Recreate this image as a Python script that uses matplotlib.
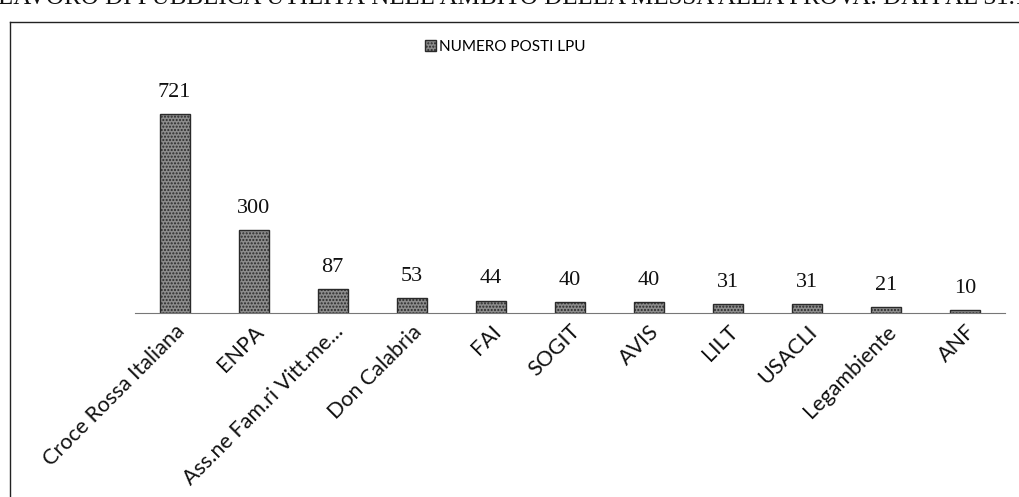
import matplotlib
matplotlib.use('Agg')
import matplotlib.pyplot as plt
from matplotlib.patches import Patch
from matplotlib.lines import Line2D

# Data
enti = ['Croce Rossa Italiana', 'ENPA', 'Ass.ne Fam.ri Vitt.me...', 'Don Calabria',
        'FAI', 'SOGIT', 'AVIS', 'LILT', 'USACLI', 'Legambiente', 'ANF']
posti = [721, 300, 87, 53, 44, 40, 40, 31, 31, 21, 10]
serie_label = 'NUMERO POSTI LPU'
intestazione = "LAVORO DI PUBBLICA UTILITÀ NELL'AMBITO DELLA MESSA ALLA PROVA. DATI AL 31.12"

W, H = 1020, 497
fig = plt.figure(figsize=(W / 100, H / 100), dpi=100)
fig.patch.set_facecolor('white')

# scanned page header, cut at the top edge
fig.text(-0.002, 1.0 + 2 / H, intestazione, ha='left', va='center', fontsize=18,
         family='Liberation Serif', color='#111111')

# chart frame (left and top edges visible)
fig.add_artist(Line2D([10 / W, 10 / W], [0, 1 - 22 / H], color='#222222', lw=1.0))
fig.add_artist(Line2D([10 / W, 1.0], [1 - 22 / H, 1 - 22 / H], color='#222222', lw=1.0))

ax = fig.add_axes([135 / W, 184 / H, 870 / W, 253 / H])
x = range(len(enti))
bars = ax.bar(x, posti, width=0.38, color='#8c8c8c', edgecolor='#2a2a2a',
              linewidth=1.0, hatch='.....')
for b, v in zip(bars, posti):
    ax.text(b.get_x() + b.get_width() / 2, v + 45, str(v), ha='center', va='bottom',
            fontsize=16, family='Liberation Serif', color='#111111')

ax.set_xlim(-0.5, len(enti) - 0.5)
ax.set_ylim(0, 917)
for s in ['top', 'right', 'left']:
    ax.spines[s].set_visible(False)
ax.spines['bottom'].set_color('#777777')
ax.spines['bottom'].set_linestyle((0, (2, 1)))
ax.spines['bottom'].set_linewidth(0.8)
ax.set_yticks([])
ax.set_xticks(list(x))
ax.set_xticklabels(enti, rotation=45, ha='right', rotation_mode='anchor',
                   fontsize=15.5, family='Lato', color='#111111')
ax.tick_params(axis='x', length=0, pad=6)

handle = Patch(facecolor='#8c8c8c', edgecolor='#2a2a2a', hatch='.....')
fig.legend([handle], [serie_label], loc='center', bbox_to_anchor=(505 / W, 1 - 47 / H),
           frameon=False, handlelength=0.7, handleheight=0.7, handletextpad=0.2,
           prop={'family': 'Lato', 'size': 11})

fig.savefig('out.png', dpi=100, facecolor='white')
